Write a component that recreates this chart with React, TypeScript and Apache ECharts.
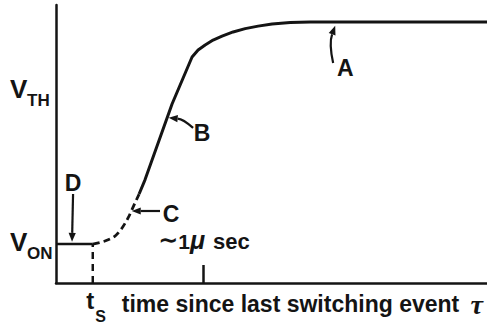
import React, { useEffect, useRef } from 'react';
import * as echarts from 'echarts';

// Horizontal axis: microseconds since the last switching event.
// Vertical axis: gate voltage, normalised to the height of the axis.
const xMax = 2.93;
const tS = 0.25;
const tMarker = 1.0;
const vOn = 0.14;
const vTh = 0.69;

// flat segment at V_ON before t_s
const holdTime = [0, tS];
const holdVolt = [vOn, vOn];

// uncertain early recovery (dashed)
const rampTime = [0.25, 0.333, 0.401, 0.449, 0.49, 0.524, 0.565];
const rampVolt = [0.14, 0.151, 0.169, 0.198, 0.234, 0.273, 0.32];

// linear rise and saturation
const riseTime = [0.565, 0.605, 0.789, 0.925, 0.966, 1.014, 1.068, 1.129, 1.204, 1.286, 1.374, 1.469, 1.592, 1.728, 2.93];
const riseVolt = [0.32, 0.371, 0.644, 0.813, 0.838, 0.856, 0.874, 0.888, 0.903, 0.915, 0.924, 0.932, 0.937, 0.939, 0.939];

// callouts: arrow tip, bend, tail and letter anchor, all in data units
const calloutNames = ['A', 'B', 'C', 'D'];
const calloutTip = [[1.898, 0.925], [0.766, 0.594], [0.515, 0.259], [0.109, 0.148]];
const calloutBend = [[1.855, 0.863], [0.864, 0.59], [0.6, 0.259], [0.112, 0.23]];
const calloutTail = [[1.884, 0.791], [0.932, 0.558], [0.707, 0.259], [0.116, 0.32]];
const calloutText = [[1.966, 0.773], [0.993, 0.54], [0.782, 0.247], [0.116, 0.36]];

const yLabelValues = [vOn, vTh];
const yLabelSubs = ['ON', 'TH'];
const xTitle = 'time since last switching event';

const INK = '#141414';
const SANS = '"Liberation Sans", Arial, sans-serif';

const lineData = (xs: number[], ys: number[]) => xs.map((x, i) => [x, ys[i]]);

export default function App() {
  const ref = useRef<HTMLDivElement>(null);

  useEffect(() => {
    if (!ref.current) return;
    const chart = echarts.init(ref.current, undefined, { renderer: 'svg' });

    const callouts = (params: any, api: any) => {
      const i = params.dataIndex;
      const tip = api.coord(calloutTip[i]);
      const bend = api.coord(calloutBend[i]);
      const tail = api.coord(calloutTail[i]);
      const lab = api.coord(calloutText[i]);
      const dx = tip[0] - bend[0];
      const dy = tip[1] - bend[1];
      const len = Math.hypot(dx, dy) || 1;
      const ux = dx / len;
      const uy = dy / len;
      const hl = 9;
      const hw = 3.6;
      const bx = tip[0] - ux * hl;
      const by = tip[1] - uy * hl;
      return {
        type: 'group',
        children: [
          {
            type: 'bezierCurve',
            shape: { x1: tail[0], y1: tail[1], cpx1: bend[0], cpy1: bend[1], x2: bx, y2: by },
            style: { stroke: INK, lineWidth: 2.2, fill: null },
          },
          {
            type: 'polygon',
            shape: {
              points: [
                [tip[0], tip[1]],
                [bx - uy * hw, by + ux * hw],
                [bx + uy * hw, by - ux * hw],
              ],
            },
            style: { fill: INK },
          },
          {
            type: 'text',
            x: lab[0],
            y: lab[1],
            style: {
              text: calloutNames[i],
              fontSize: 23,
              fontWeight: 'bold',
              fontFamily: SANS,
              fill: INK,
              align: 'center',
              verticalAlign: 'middle',
            },
          },
        ],
      };
    };

    const axisText = (params: any, api: any) => {
      const children: any[] = [];
      yLabelValues.forEach((v, i) => {
        const p = api.coord([0, v]);
        children.push({
          type: 'text',
          x: p[0] - 46,
          y: p[1] - 2,
          style: { text: 'V', fontSize: 26, fontWeight: 'bold', fontFamily: SANS, fill: INK, align: 'left', verticalAlign: 'middle' },
        });
        children.push({
          type: 'text',
          x: p[0] - 29,
          y: p[1] + 9,
          style: { text: yLabelSubs[i], fontSize: 17, fontWeight: 'bold', fontFamily: SANS, fill: INK, align: 'left', verticalAlign: 'middle' },
        });
      });

      // t_s under its dashed marker
      const ts = api.coord([tS, 0]);
      children.push({
        type: 'text',
        x: ts[0] - 6.5,
        y: ts[1] + 17.5,
        style: { text: 't', fontSize: 24, fontWeight: 'bold', fontFamily: SANS, fill: INK, align: 'left', verticalAlign: 'middle' },
      });
      children.push({
        type: 'text',
        x: ts[0] + 2.5,
        y: ts[1] + 33,
        style: { text: 'S', fontSize: 16, fontWeight: 'bold', fontFamily: SANS, fill: INK, align: 'left', verticalAlign: 'middle' },
      });
      children.push({
        type: 'text',
        x: ts[0] + 29,
        y: ts[1] + 21,
        style: { text: xTitle, fontSize: 23, fontWeight: 'bold', fontFamily: SANS, fill: INK, align: 'left', verticalAlign: 'middle' },
      });
      const end = api.coord([xMax, 0]);
      children.push({
        type: 'text',
        x: end[0] - 4,
        y: end[1] + 21,
        style: {
          text: '\u03c4',
          fontSize: 28,
          fontStyle: 'italic',
          fontWeight: 'bold',
          fontFamily: '"Liberation Serif", serif',
          fill: INK,
          align: 'right',
          verticalAlign: 'middle',
        },
      });

      // "~1 µsec" label over the 1 µs tick, glyphs sitting on a common baseline
      const m = api.coord([tMarker, 0]);
      children.push({
        type: 'text',
        x: m[0] - 45,
        y: m[1] - 31,
        style: {
          text: '{a|\u223c}{b|1}{c|\u03bc}{d|sec}',
          align: 'left',
          verticalAlign: 'bottom',
          fill: INK,
          rich: {
            a: { fontSize: 24, fontWeight: 'bold', fontFamily: '"DejaVu Sans", sans-serif', lineHeight: 17, verticalAlign: 'bottom', fill: INK },
            b: { fontSize: 21, fontWeight: 'bold', fontFamily: SANS, lineHeight: 15, verticalAlign: 'bottom', fill: INK },
            c: { fontSize: 25, fontWeight: 'bold', fontStyle: 'italic', fontFamily: SANS, lineHeight: 17.5, verticalAlign: 'bottom', fill: INK },
            d: { fontSize: 22, fontWeight: 'bold', fontFamily: SANS, lineHeight: 15.5, padding: [0, 0, 0, 8], verticalAlign: 'bottom', fill: INK },
          },
        },
      });
      return { type: 'group', children };
    };

    chart.setOption({
      animation: false,
      grid: { left: 56, right: 0, top: 5, bottom: 43 },
      xAxis: {
        type: 'value',
        min: 0,
        max: xMax,
        axisLine: { show: true, onZero: false, lineStyle: { color: INK, width: 2.5 } },
        axisTick: { show: true, inside: true, length: 18, customValues: [tMarker], lineStyle: { color: INK, width: 2.5 } },
        axisLabel: { show: false },
        splitLine: { show: false },
      },
      yAxis: {
        type: 'value',
        min: 0,
        max: 1,
        axisLine: { show: true, onZero: false, lineStyle: { color: INK, width: 2.5 } },
        axisTick: { show: false },
        axisLabel: { show: false },
        splitLine: { show: false },
      },
      series: [
        {
          type: 'line',
          data: lineData(holdTime, holdVolt),
          symbol: 'none',
          lineStyle: { color: INK, width: 2.5 },
        },
        {
          type: 'line',
          data: [[tS, 0], [tS, vOn]],
          symbol: 'none',
          lineStyle: { color: INK, width: 2.5, type: [7, 5] },
        },
        {
          type: 'line',
          data: lineData(rampTime, rampVolt),
          symbol: 'none',
          smooth: 0.3,
          lineStyle: { color: INK, width: 2.8, type: [7, 4] },
        },
        {
          type: 'line',
          data: lineData(riseTime, riseVolt),
          symbol: 'none',
          lineStyle: { color: INK, width: 3, join: 'round' },
        },
        {
          type: 'custom',
          renderItem: callouts,
          data: calloutTip,
          clip: false,
          silent: true,
        },
        {
          type: 'custom',
          renderItem: axisText,
          data: [[0, 0]],
          clip: false,
          silent: true,
        },
      ],
    });

    return () => chart.dispose();
  }, []);

  return (
    <div
      ref={ref}
      style={{ position: 'fixed', left: 0, top: 0, width: 487, height: 326, background: '#fff' }}
    />
  );
}
